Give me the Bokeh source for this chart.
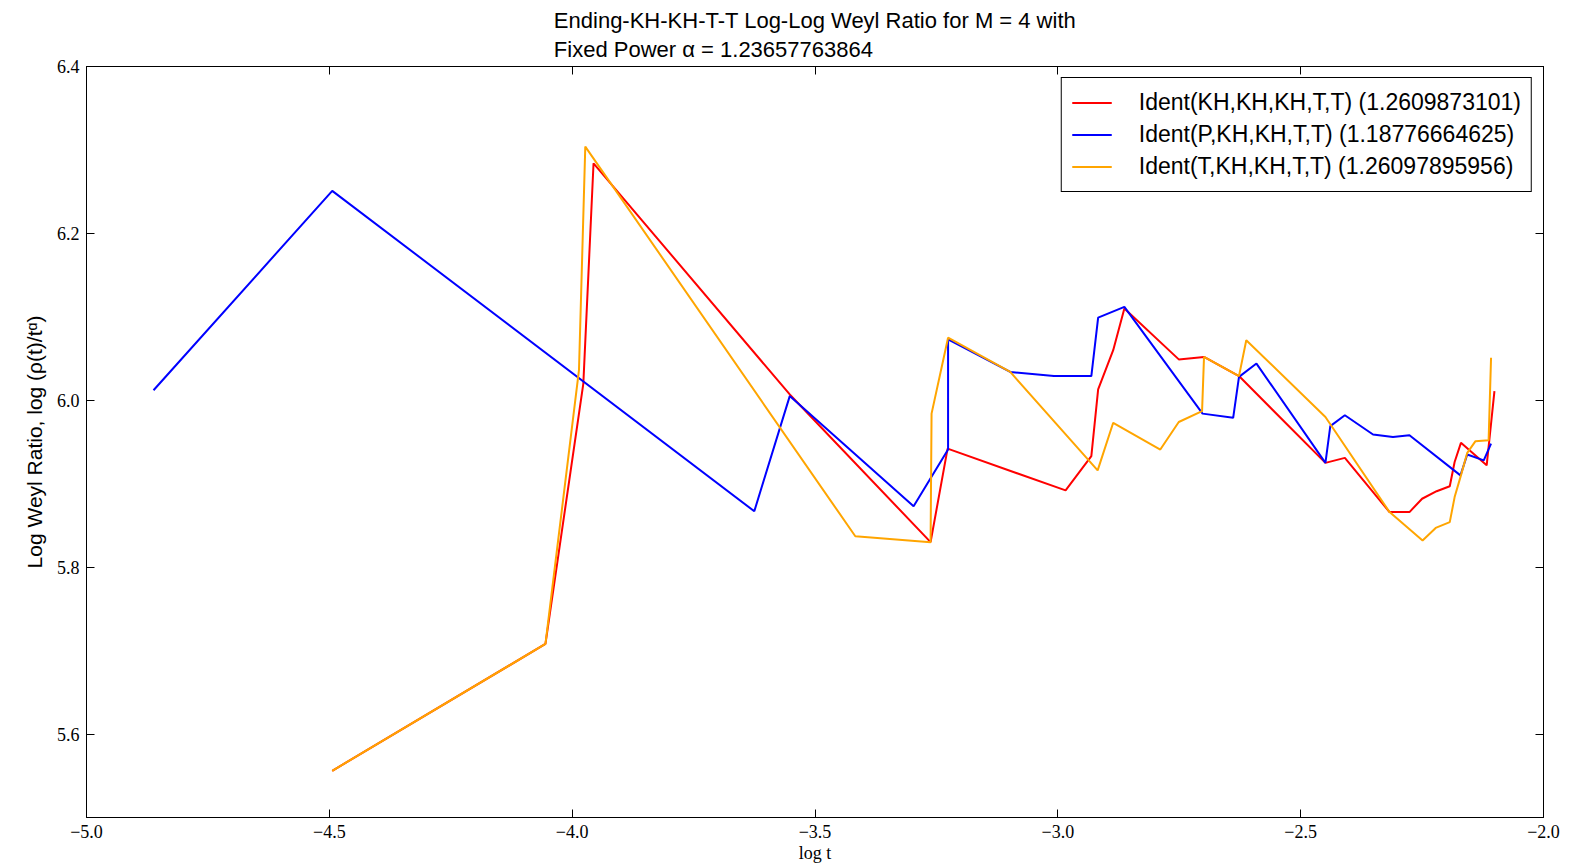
from bokeh.plotting import figure
from bokeh.models import LinearAxis, FixedTicker, Legend, LegendItem, Range1d
from bokeh.embed import file_html
from bokeh.resources import INLINE

# ---- data ----
red_x = [-4.494, -4.055, -3.977, -3.956, -3.552, -3.262, -3.227, -2.984, -2.931, -2.917,
         -2.886, -2.863, -2.751, -2.699, -2.627, -2.449, -2.409, -2.317, -2.276, -2.250,
         -2.220, -2.193, -2.183, -2.170, -2.117, -2.101]
red_y = [5.556, 5.708, 6.020, 6.284, 6.007, 5.830, 5.942, 5.892, 5.933, 6.013,
         6.060, 6.110, 6.049, 6.052, 6.029, 5.925, 5.931, 5.866, 5.866, 5.882,
         5.891, 5.897, 5.926, 5.949, 5.922, 6.011]

blue_x = [-4.862, -4.494, -3.625, -3.552, -3.297, -3.226, -3.226, -3.098, -3.008, -2.931,
          -2.917, -2.863, -2.702, -2.639, -2.627, -2.591, -2.449, -2.439, -2.409, -2.351,
          -2.310, -2.276, -2.171, -2.157, -2.123, -2.108]
blue_y = [6.012, 6.251, 5.867, 6.005, 5.873, 5.941, 6.073, 6.034, 6.029, 6.029,
          6.099, 6.112, 5.984, 5.979, 6.028, 6.044, 5.925, 5.969, 5.982, 5.959,
          5.956, 5.958, 5.910, 5.935, 5.928, 5.948]

orange_x = [-4.494, -4.055, -3.986, -3.973, -3.417, -3.262, -3.260, -3.226, -3.098, -2.918,
            -2.886, -2.789, -2.751, -2.703, -2.699, -2.627, -2.612, -2.449, -2.317, -2.249,
            -2.222, -2.193, -2.183, -2.170, -2.157, -2.140, -2.113, -2.108]
orange_y = [5.556, 5.708, 6.036, 6.304, 5.837, 5.830, 5.984, 6.075, 6.034, 5.916,
            5.973, 5.941, 5.974, 5.987, 6.052, 6.029, 6.072, 5.980, 5.866, 5.832,
            5.847, 5.854, 5.884, 5.910, 5.937, 5.951, 5.952, 6.051]

series_labels = ["Ident(KH,KH,KH,T,T) (1.2609873101)",
                 "Ident(P,KH,KH,T,T) (1.18776664625)",
                 "Ident(T,KH,KH,T,T) (1.26097895956)"]

x_ticks = [-5.0, -4.5, -4.0, -3.5, -3.0, -2.5, -2.0]
x_tick_labels = ["\u22125.0", "\u22124.5", "\u22124.0", "\u22123.5", "\u22123.0", "\u22122.5", "\u22122.0"]
y_ticks = [5.6, 5.8, 6.0, 6.2, 6.4]
y_tick_labels = ["5.6", "5.8", "6.0", "6.2", "6.4"]

title_text = "Ending-KH-KH-T-T Log-Log Weyl Ratio for M = 4 with\nFixed Power \u03b1 = 1.23657763864"
x_label = "log t"
y_label = "Log Weyl Ratio, log (\u03c1(t)/t\u1d45)"

# ---- figure ----
p = figure(width=1572, height=868, output_backend="svg", toolbar_location=None,
           x_range=Range1d(-5.0, -2.0), y_range=Range1d(5.5, 6.4),
           min_border_left=86, min_border_right=29, min_border_top=66, min_border_bottom=51)

p.title.text = title_text
p.title.align = "center"
p.title.text_font = "Liberation Sans"
p.title.text_font_size = "22px"
p.title.text_font_style = "normal"
p.title.text_line_height = 1.15
p.title.text_color = "black"

p.xgrid.visible = False
p.ygrid.visible = False
p.outline_line_color = "black"
p.outline_line_width = 1
p.background_fill_color = "white"
p.border_fill_color = "white"

serif = "Liberation Serif"

def style_axis(ax, ticks, labels):
    ax.ticker = FixedTicker(ticks=ticks)
    ax.major_tick_in = 8
    ax.major_tick_out = 0
    ax.minor_tick_line_color = None
    ax.major_tick_line_color = "black"
    ax.axis_line_color = "black"
    ax.major_label_text_font = serif
    ax.major_label_text_font_size = "18px"
    ax.major_label_text_color = "black"
    ax.major_label_standoff = 7
    ax.major_label_overrides = {t: l for t, l in zip(ticks, labels)}

xax = p.xaxis[0]
style_axis(xax, x_ticks, x_tick_labels)
xax.axis_label = x_label
xax.axis_label_text_font = serif
xax.axis_label_text_font_size = "18px"
xax.axis_label_text_font_style = "normal"
xax.axis_label_text_color = "black"
xax.axis_label_standoff = 2

yax = p.yaxis[0]
style_axis(yax, y_ticks, y_tick_labels)
yax.axis_label = y_label
yax.axis_label_text_font = "Liberation Sans"
yax.axis_label_text_font_size = "21px"
yax.axis_label_text_font_style = "normal"
yax.axis_label_text_color = "black"
yax.axis_label_standoff = 8

top_ax = LinearAxis()
style_axis(top_ax, x_ticks, ["" for _ in x_ticks])
top_ax.major_label_standoff = 0
p.add_layout(top_ax, "above")
right_ax = LinearAxis()
style_axis(right_ax, y_ticks, ["" for _ in y_ticks])
right_ax.major_label_standoff = 0
p.add_layout(right_ax, "right")

r1 = p.line(red_x, red_y, line_color="#ff0000", line_width=2)
r2 = p.line(blue_x, blue_y, line_color="#0000ff", line_width=2)
r3 = p.line(orange_x, orange_y, line_color="#ffa500", line_width=2)

legend = Legend(items=[LegendItem(label=series_labels[0], renderers=[r1]),
                       LegendItem(label=series_labels[1], renderers=[r2]),
                       LegendItem(label=series_labels[2], renderers=[r3])],
                location="top_right")
legend.margin = 11
legend.padding = 10
legend.spacing = 3
legend.label_height = 29
legend.glyph_height = 29
legend.glyph_width = 40
legend.label_standoff = 27
legend.label_text_font = "Liberation Sans"
legend.label_text_font_size = "23px"
legend.label_text_color = "black"
legend.border_line_color = "black"
legend.border_line_width = 1
legend.border_line_alpha = 1.0
legend.background_fill_alpha = 1.0
p.add_layout(legend, "center")

open("out.html", "w").write(file_html(p, INLINE))
